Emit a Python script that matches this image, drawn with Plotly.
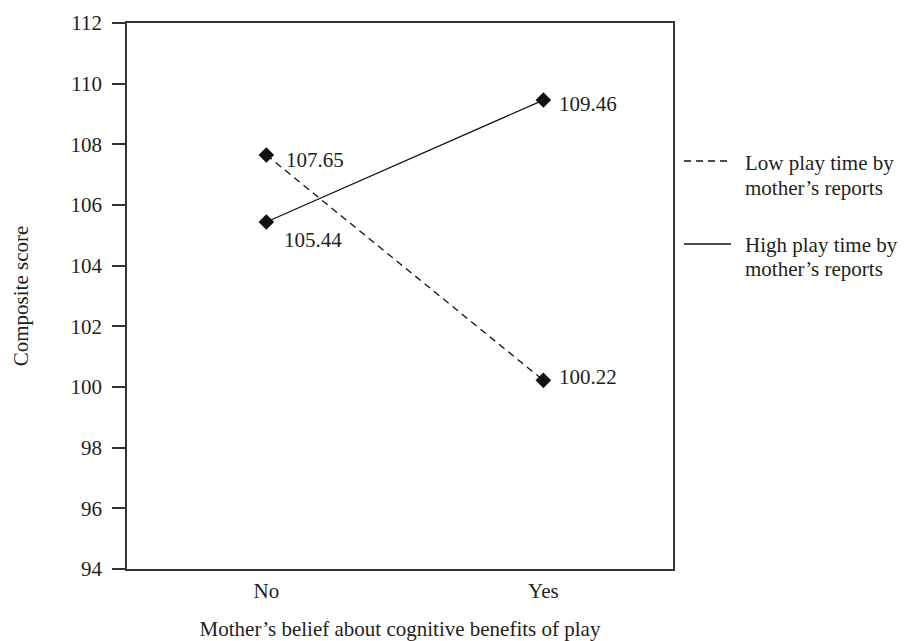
import plotly.graph_objects as go

# ---- data ----
categories = ["No", "Yes"]
low_play = [107.65, 100.22]
high_play = [105.44, 109.46]
series_names = ["Low play time by<br>mother’s reports", "High play time by<br>mother’s reports"]
y_ticks = [94, 96, 98, 100, 102, 104, 106, 108, 110, 112]
x_title = "Mother’s belief about cognitive benefits of play"
y_title = "Composite score"

FONT = "Liberation Serif, Times New Roman, serif"
TXT = "#231f20"
FS = 21

W, H = 906, 641
ML, MR, MT, MB = 127, 233, 23, 72
PW, PH = W - ML - MR, H - MT - MB


def px_x(px):
    return (px - ML) / PW


def px_y(py):
    return (H - MB - py) / PH


xpos = list(range(len(categories)))

fig = go.Figure()
fig.add_trace(go.Scatter(
    x=xpos, y=low_play, mode="lines+markers", name=series_names[0],
    line=dict(color="#111", width=1.3, dash="7px,5px"),
    marker=dict(symbol="diamond", size=12, color="#111"),
    showlegend=False,
))
fig.add_trace(go.Scatter(
    x=xpos, y=high_play, mode="lines+markers", name=series_names[1],
    line=dict(color="#111", width=1.3),
    marker=dict(symbol="diamond", size=12, color="#111"),
    showlegend=False,
))

annotations = []
# value labels
label_shifts = {  # (series, index): (xshift, yshift)
    (0, 0): (18, -5), (0, 1): (14, 3),
    (1, 0): (16, -18), (1, 1): (14, -4),
}
for si, vals in enumerate([low_play, high_play]):
    for i, v in enumerate(vals):
        xs, ys = label_shifts[(si, i)]
        annotations.append(dict(
            x=xpos[i], y=v, xref="x", yref="y", text=f"{v:.2f}",
            showarrow=False, xanchor="left", yanchor="middle",
            xshift=xs, yshift=ys, font=dict(family=FONT, size=FS, color=TXT),
        ))

# manual legend
legend_rows = [(161, [163, 188], "7px,5px"), (244, [245, 269], "solid")]
shapes = []
for (ly, ty, dash), name in zip(legend_rows, series_names):
    shapes.append(dict(type="line", xref="paper", yref="paper",
                       x0=px_x(684), x1=px_x(731), y0=px_y(ly), y1=px_y(ly),
                       line=dict(color="#111", width=1.3, dash=dash)))
    for t, yy in zip(name.split("<br>"), ty):
        annotations.append(dict(
            x=px_x(743), y=px_y(yy), xref="paper", yref="paper", text=t,
            showarrow=False, xanchor="left", yanchor="middle",
            font=dict(family=FONT, size=FS, color=TXT),
        ))

fig.update_layout(
    width=W, height=H,
    margin=dict(l=ML, r=MR, t=MT, b=MB, pad=0, autoexpand=False),
    paper_bgcolor="white", plot_bgcolor="white",
    font=dict(family=FONT, size=FS, color=TXT),
    annotations=annotations, shapes=shapes,
    showlegend=False,
)
fig.update_xaxes(
    range=[-0.503, 1.468], tickvals=xpos, ticktext=categories,
    showgrid=False, zeroline=False, ticks="", automargin=False,
    showline=True, mirror=True, linecolor="#333", linewidth=1.5,
    ticklabelstandoff=2,
    title=dict(text=x_title, standoff=20, font=dict(family=FONT, size=FS, color=TXT)),
    tickfont=dict(family=FONT, size=FS, color=TXT),
)
fig.update_yaxes(
    range=[94, 112], tickvals=y_ticks, automargin=False,
    showgrid=False, zeroline=False, ticks="outside", ticklen=13,
    tickcolor="#333", tickwidth=1.5, ticklabelstandoff=6,
    showline=True, mirror=True, linecolor="#333", linewidth=1.5,
    title=dict(text=y_title, standoff=36, font=dict(family=FONT, size=FS, color=TXT)),
    tickfont=dict(family=FONT, size=FS, color=TXT),
)

fig.write_html("out.html", config={"displayModeBar": False},
               post_script="document.body.style.margin='0';")
